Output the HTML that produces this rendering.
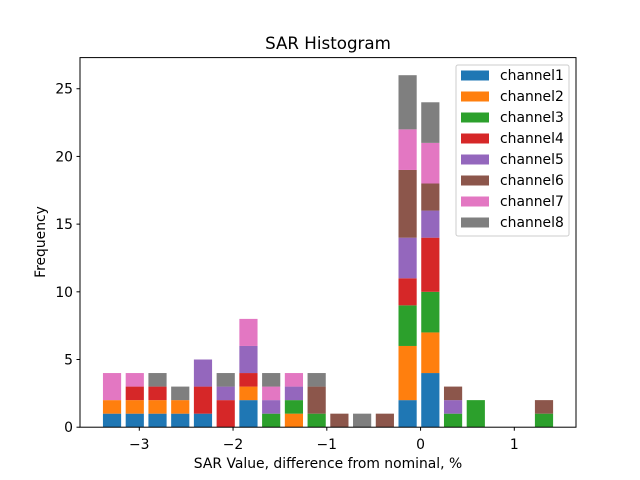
<!DOCTYPE html>
<html><head><meta charset="utf-8">
<style>
html,body{margin:0;padding:0;background:#fff;}
svg{display:block;font-family:"DejaVu Sans","Liberation Sans",sans-serif;}
</style></head>
<body>
<svg id="chart" width="640" height="480" viewBox="0 0 640 480">
<rect x="0" y="0" width="640" height="480" fill="#fff"/>
<text x="328" y="49" text-anchor="middle" font-size="16.7" fill="#000">SAR Histogram</text>
<g id="bars"></g>
<g id="xticks"></g>
<g id="yticks"></g>
<rect x="80" y="57.6" width="496" height="369.6" fill="none" stroke="#000" stroke-width="1"/>
<text x="328" y="468" text-anchor="middle" font-size="13.9">SAR Value, difference from nominal, %</text>
<text transform="translate(45,242) rotate(-90)" text-anchor="middle" font-size="13.9">Frequency</text>
<g id="legend"></g>
</svg>
<script>
const channels = ["channel1","channel2","channel3","channel4","channel5","channel6","channel7","channel8"];
const colors = ["#1f77b4","#ff7f0e","#2ca02c","#d62728","#9467bd","#8c564b","#e377c2","#7f7f7f"];
const binStart = -3.412;
const binWidth = 0.2425;
// counts per bin (20 bins) for each channel
const ch1 = [1,1,1,1,1,0,2,0,0,0,0,0,0,2,4,0,0,0,0,0];
const ch2 = [1,1,1,1,0,0,1,0,1,0,0,0,0,4,3,0,0,0,0,0];
const ch3 = [0,0,0,0,0,0,0,1,1,1,0,0,0,3,3,1,2,0,0,1];
const ch4 = [0,1,1,0,2,2,1,0,0,0,0,0,0,2,4,0,0,0,0,0];
const ch5 = [0,0,0,0,2,1,2,1,1,0,0,0,0,3,2,1,0,0,0,0];
const ch6 = [0,0,0,0,0,0,0,0,0,2,1,0,1,5,2,1,0,0,0,1];
const ch7 = [2,1,0,0,0,0,2,1,1,0,0,0,0,3,3,0,0,0,0,0];
const ch8 = [0,0,1,1,0,1,0,1,0,1,0,1,0,4,3,0,0,0,0,0];
const series = [ch1,ch2,ch3,ch4,ch5,ch6,ch7,ch8];
const xTicks = [-3,-2,-1,0,1];
const yTicks = [0,5,10,15,20,25];
const xLimits = [-3.6325, 1.658];

const NS = "http://www.w3.org/2000/svg";
const nBins = ch1.length;
const xmin = xLimits[0], xmax = xLimits[1];
const totals = [];
for (let i=0;i<nBins;i++){let t=0;series.forEach(s=>t+=s[i]);totals.push(t);}
const ymax = Math.max(...totals)*1.05;
const X = v => 80 + (v - xmin)*496/(xmax - xmin);
const Y = v => 427.2 - v*369.6/ymax;

const bars = document.getElementById('bars');
for (let i=0;i<nBins;i++){
  let base = 0;
  const left = binStart + i*binWidth + binWidth*0.1;
  const right = left + binWidth*0.8;
  series.forEach((s,k)=>{
    const v = s[i];
    if (v>0){
      const r = document.createElementNS(NS,'rect');
      r.setAttribute('x',X(left));
      r.setAttribute('width',X(right)-X(left));
      r.setAttribute('y',Y(base+v));
      r.setAttribute('height',Y(base)-Y(base+v));
      r.setAttribute('fill',colors[k]);
      
      
      bars.appendChild(r);
    }
    base += v;
  });
}
const xg = document.getElementById('xticks');
xTicks.forEach(t=>{
  const x = X(t);
  const l = document.createElementNS(NS,'line');
  l.setAttribute('x1',x);l.setAttribute('x2',x);l.setAttribute('y1',427.2);l.setAttribute('y2',430.7);
  l.setAttribute('stroke','#000');
  
  
  xg.appendChild(l);
  const tx = document.createElementNS(NS,'text');
  tx.setAttribute('x',x);tx.setAttribute('y',449);tx.setAttribute('text-anchor','middle');tx.setAttribute('font-size','13.9');
  tx.textContent = t<0 ? '\u2212'+Math.abs(t) : String(t);
  
  
  xg.appendChild(tx);
});
const yg = document.getElementById('yticks');
yTicks.forEach(t=>{
  const y = Y(t);
  const l = document.createElementNS(NS,'line');
  l.setAttribute('x1',76.5);l.setAttribute('x2',80);l.setAttribute('y1',y);l.setAttribute('y2',y);
  l.setAttribute('stroke','#000');
  
  
  yg.appendChild(l);
  const tx = document.createElementNS(NS,'text');
  tx.setAttribute('x',73);tx.setAttribute('y',y+5);tx.setAttribute('text-anchor','end');tx.setAttribute('font-size','13.9');
  tx.textContent = String(t);
  
  
  yg.appendChild(tx);
});
const lg = document.getElementById('legend');
const box = document.createElementNS(NS,'rect');
box.setAttribute('x',456);box.setAttribute('y',65);box.setAttribute('width',113);box.setAttribute('height',171);
box.setAttribute('rx',2);box.setAttribute('fill','#fff');box.setAttribute('fill-opacity','0.8');box.setAttribute('stroke','#ccc');


lg.appendChild(box);
channels.forEach((c,k)=>{
  const y = 75 + k*21;
  const sw = document.createElementNS(NS,'rect');
  sw.setAttribute('x',461);sw.setAttribute('y',y-4.5);sw.setAttribute('width',28);sw.setAttribute('height',10);
  sw.setAttribute('fill',colors[k]);
  
  
  lg.appendChild(sw);
  const tx = document.createElementNS(NS,'text');
  tx.setAttribute('x',500);tx.setAttribute('y',y+5);tx.setAttribute('font-size','13.9');
  tx.textContent = c;
  
  
  lg.appendChild(tx);
});
</script>
</body></html>
